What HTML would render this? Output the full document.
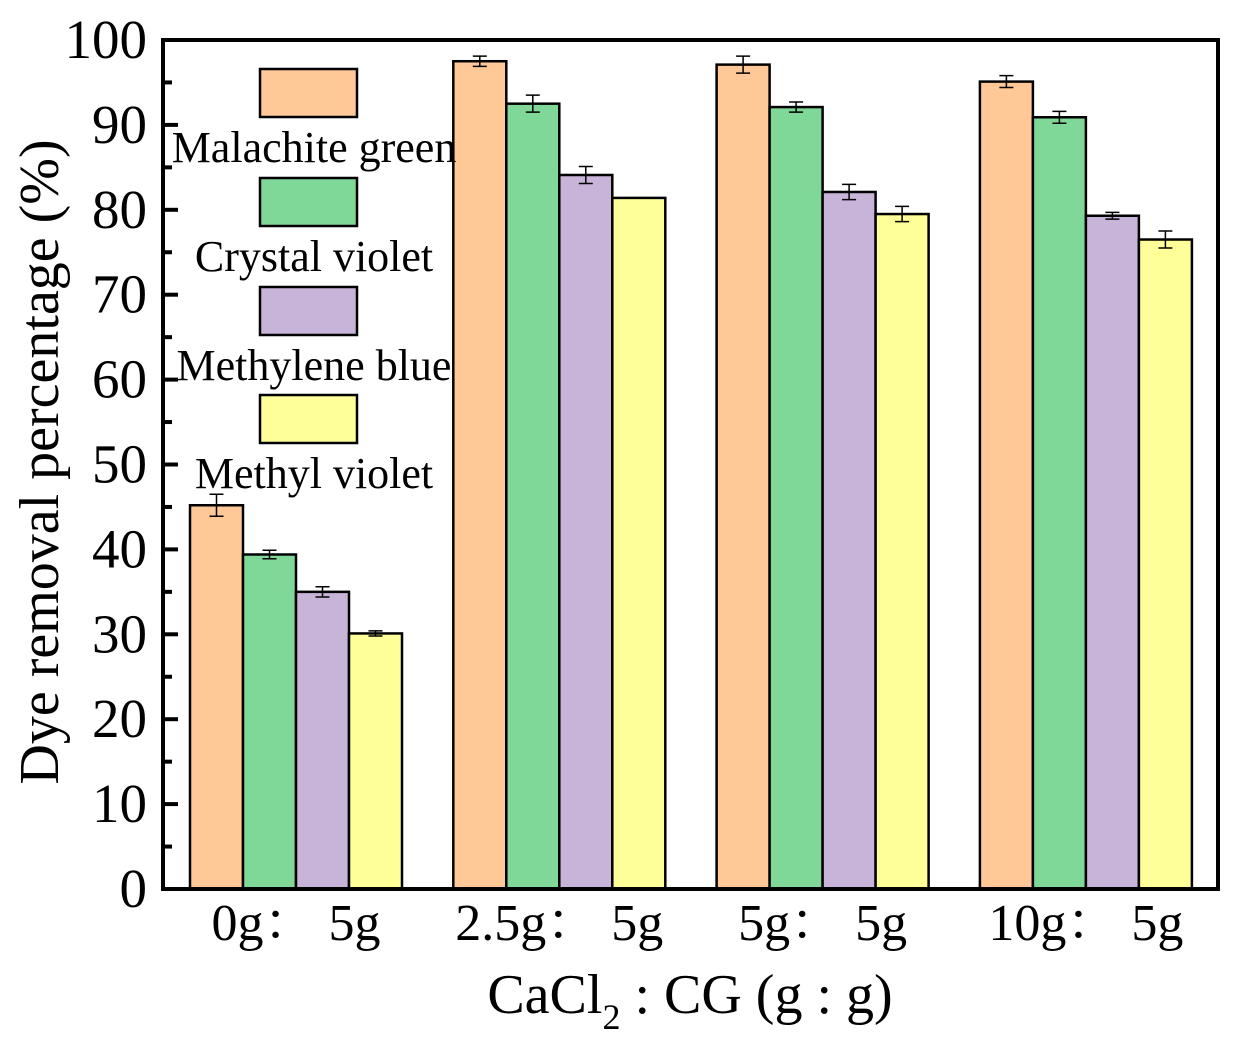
<!DOCTYPE html>
<html><head><meta charset="utf-8"><style>
html,body{margin:0;padding:0;background:#fff;width:1235px;height:1044px;overflow:hidden}
svg text{font-family:"Liberation Serif","Noto Serif CJK SC",serif;fill:#000}
</style></head><body>
<svg id="chart" width="1235" height="1044" viewBox="0 0 1235 1044" xmlns="http://www.w3.org/2000/svg"></svg>
<script>
const categories=["0g：5g","2.5g：5g","5g：5g","10g：5g"];
const seriesNames=["Malachite green","Crystal violet","Methylene blue","Methyl violet"];
const malachite=[45.2,97.5,97.1,95.1];
const crystal=[39.4,92.5,92.1,90.9];
const methylene=[35.0,84.1,82.1,79.3];
const methyl=[30.1,81.4,79.5,76.5];
const errMalachite=[1.3,0.6,1.0,0.7];
const errCrystal=[0.5,1.0,0.6,0.7];
const errMethylene=[0.6,1.0,0.9,0.4];
const errMethyl=[0.3,0,0.9,1.0];
const yTicks=[0,10,20,30,40,50,60,70,80,90,100];
const colors=["#FFC896","#80D898","#C8B4D8","#FFFF99"];
const series=[malachite,crystal,methylene,methyl];
const errs=[errMalachite,errCrystal,errMethylene,errMethyl];
const L=163,R=1218,T=40,B=889;
const y=v=>B-(v/100)*(B-T);
const groupStart=i=>190+i*263.3, barW=53;
const svg=document.getElementById('chart');
const NS="http://www.w3.org/2000/svg";
function el(tag,attrs,parent){const e=document.createElementNS(NS,tag);for(const k in attrs)e.setAttribute(k,attrs[k]);(parent||svg).appendChild(e);return e;}
series.forEach((vals,s)=>{vals.forEach((v,i)=>{
  const x=groupStart(i)+s*barW;
  const r=el('rect',{x:x,y:y(v),width:barW,height:B-y(v),fill:colors[s],stroke:'#000','stroke-width':2.5});
  
  
  const e=errs[s][i];
  if(e>0){const cx=x+barW/2;
    const g=el('path',{d:`M${cx},${y(v+e)}V${y(v-e)}M${cx-7},${y(v+e)}H${cx+7}M${cx-7},${y(v-e)}H${cx+7}`,stroke:'#000','stroke-width':1.5,fill:'none'});
    
    
  }
});});
const f=el('rect',{x:L,y:T,width:R-L,height:B-T,fill:'none',stroke:'#000','stroke-width':4});


yTicks.forEach(t=>{
  el('line',{x1:L,x2:L+15,y1:y(t),y2:y(t),stroke:'#000','stroke-width':4});
  if(t<100)el('line',{x1:L,x2:L+9,y1:y(t+5),y2:y(t+5),stroke:'#000','stroke-width':4});
  const tx=el('text',{x:147,y:y(t)+18,'text-anchor':'end','font-size':55});
  tx.textContent=t;
  
  
});
categories.forEach((c,i)=>{
  const tx=el('text',{x:groupStart(i)+2*barW,y:940,'text-anchor':'middle','font-size':52});
  tx.textContent=c.replace('：','：  ');
  tx.setAttribute('xml:space','preserve');
  
  
});
const yt=el('text',{x:0,y:0,transform:'translate(58,462) rotate(-90)','text-anchor':'middle','font-size':56});
yt.textContent='Dye removal percentage (%)';


const xt=el('text',{x:690,y:1013,'text-anchor':'middle','font-size':56});
xt.innerHTML='CaCl<tspan font-size="36" dy="16">2</tspan><tspan dy="-16"> : CG (g : g)</tspan>';


const boxY=[69,178,287,395], labY=[162,271,380,488];
seriesNames.forEach((n,s)=>{
  const r=el('rect',{x:260,y:boxY[s],width:97,height:48,fill:colors[s],stroke:'#000','stroke-width':2.5});
  
  
  const tx=el('text',{x:314,y:labY[s],'text-anchor':'middle','font-size':44});
  tx.textContent=n;
  
  
});
</script>
</body></html>
